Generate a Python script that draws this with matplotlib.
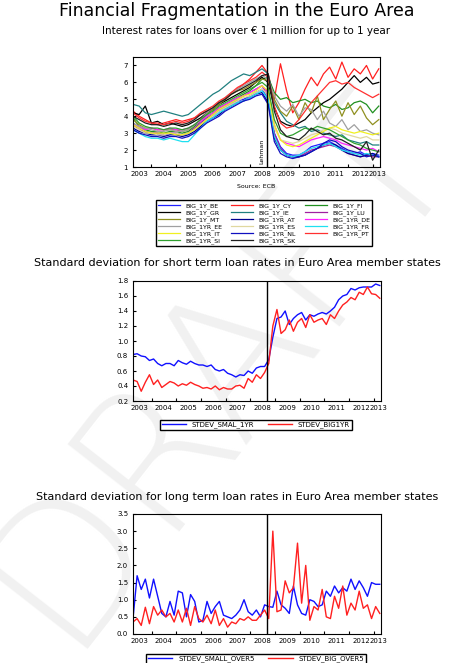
import numpy as np
import matplotlib
matplotlib.use("Agg")
import matplotlib.pyplot as plt

# quarterly dates, Apr 2003 .. Apr 2013
quarters = np.arange(2003.25, 2013.26, 0.25)
# bimonthly dates for the standard deviation panels
bimonths = 2003.25 + np.arange(61) / 6.0

big = {
    "BIG_1Y_BE": [3.6,3.3,3.1,3.0,3.0,2.9,3.0,3.0,2.9,3.0,3.2,3.5,3.8,4.0,4.3,4.5,4.7,4.9,5.0,5.2,5.4,5.6,
                  5.0,3.0,2.2,1.8,1.7,1.7,1.9,2.2,2.3,2.4,2.5,2.3,2.1,1.9,1.8,1.9,1.7,1.8,1.7],
    "BIG_1Y_CY": [4.3,4.0,3.8,3.6,3.5,3.6,3.7,3.8,3.7,3.8,3.9,4.1,4.3,4.5,4.8,5.0,5.3,5.6,5.9,6.2,6.6,7.0,
                  6.5,5.0,7.1,5.5,4.2,4.8,5.6,6.3,5.8,6.5,6.9,6.2,7.2,6.3,6.8,6.5,7.0,6.2,6.8],
    "BIG_1Y_FI": [3.9,3.4,3.2,3.1,3.1,3.0,3.1,3.1,3.0,3.1,3.4,3.7,4.0,4.2,4.5,4.7,4.9,5.1,5.3,5.5,5.8,6.2,
                  6.3,5.4,5.0,5.1,4.8,4.9,5.0,4.8,4.9,4.6,4.5,4.7,4.4,4.5,4.8,4.9,4.7,4.2,4.6],
    "BIG_1Y_GR": [4.2,4.1,4.6,3.6,3.7,3.5,3.6,3.5,3.4,3.5,3.7,3.9,4.2,4.4,4.7,4.9,5.1,5.3,5.5,5.7,6.0,6.3,
                  6.0,4.5,3.7,3.5,3.4,3.6,3.8,4.2,4.5,4.8,5.0,5.3,5.6,6.0,6.4,6.0,6.3,5.9,6.0],
    "BIG_1Y_IE": [4.7,4.6,4.2,4.1,4.2,4.3,4.2,4.1,4.0,4.1,4.4,4.7,5.0,5.3,5.5,5.8,6.1,6.3,6.5,6.4,6.6,6.8,
                  6.5,4.8,4.2,3.7,3.5,3.3,3.4,3.1,3.2,3.0,2.9,2.8,2.9,2.6,2.5,2.4,2.5,2.3,2.3],
    "BIG_1Y_LU": [3.5,3.2,3.1,3.0,3.0,2.9,3.0,3.0,2.9,3.0,3.3,3.6,3.9,4.1,4.4,4.6,4.8,5.0,5.2,5.4,5.6,5.8,
                  5.2,3.0,2.1,1.7,1.6,1.6,1.8,2.0,2.1,2.2,2.3,2.2,2.0,1.8,1.7,1.6,1.7,1.6,1.6],
    "BIG_1Y_MT": [3.8,3.5,3.3,3.3,3.2,3.2,3.2,3.2,3.1,3.2,3.5,3.8,4.1,4.4,4.7,5.0,5.3,5.5,5.6,5.8,6.0,6.2,
                  6.1,5.0,4.3,4.0,4.6,3.8,4.8,4.2,5.2,3.8,4.4,4.9,4.0,4.8,4.1,4.6,3.9,3.5,3.8],
    "BIG_1YR_AT": [3.3,3.1,3.0,2.9,2.9,2.8,2.9,2.9,2.8,2.9,3.1,3.4,3.7,3.9,4.1,4.4,4.6,4.8,4.9,5.1,5.3,5.4,
                   4.8,2.7,2.0,1.7,1.6,1.6,1.7,1.9,2.1,2.3,2.4,2.3,2.0,1.8,1.7,1.6,1.7,1.8,1.6],
    "BIG_1YR_DE": [3.5,3.4,3.2,3.3,3.2,3.2,3.3,3.2,3.2,3.3,3.5,3.7,4.0,4.2,4.5,4.7,4.9,5.1,5.2,5.4,5.6,5.8,
                   5.4,3.5,2.6,2.4,2.3,2.2,2.4,2.6,2.7,2.8,2.7,2.6,2.4,2.3,2.2,2.1,2.0,2.1,1.9],
    "BIG_1YR_EE": [3.6,3.4,3.3,3.2,3.1,3.1,3.2,3.1,3.1,3.2,3.5,3.8,4.2,4.5,4.8,5.1,5.4,5.6,5.8,6.0,6.2,6.4,
                   6.2,5.2,4.6,4.3,4.7,4.0,4.5,4.4,3.8,4.3,3.6,3.4,3.8,3.2,3.5,3.1,3.2,3.0,2.9],
    "BIG_1YR_ES": [3.4,3.2,3.0,3.0,2.9,2.9,3.0,3.0,2.9,3.0,3.2,3.5,3.8,4.0,4.3,4.5,4.7,4.9,5.1,5.2,5.4,5.6,
                   5.3,3.3,2.6,2.5,2.4,2.5,2.7,2.9,3.0,3.2,3.3,3.2,3.0,2.9,2.8,2.7,2.8,2.6,2.6],
    "BIG_1YR_FR": [3.2,3.0,2.8,2.7,2.7,2.6,2.7,2.6,2.5,2.5,2.9,3.3,3.7,3.9,4.2,4.4,4.6,4.8,4.9,5.1,5.3,5.5,
                   5.0,2.8,2.0,1.7,1.6,1.7,1.9,2.1,2.2,2.3,2.4,2.2,2.0,1.9,1.8,1.7,1.8,1.7,1.6],
    "BIG_1YR_IT": [3.5,3.3,3.1,3.0,3.0,3.0,3.0,2.9,2.9,3.0,3.2,3.5,3.8,4.1,4.4,4.6,4.8,5.0,5.2,5.3,5.5,5.8,
                   5.5,3.5,2.6,2.3,2.2,2.3,2.5,2.7,2.9,3.1,3.3,3.4,3.2,3.1,3.0,3.1,3.0,2.9,3.0],
    "BIG_1YR_NL": [3.2,3.0,2.9,2.8,2.8,2.7,2.8,2.8,2.7,2.8,3.0,3.3,3.6,3.8,4.0,4.3,4.5,4.7,4.9,5.0,5.2,5.3,
                   4.7,2.5,1.8,1.6,1.5,1.6,1.7,1.9,2.1,2.4,2.6,2.5,2.2,2.0,1.9,1.8,1.6,1.7,1.6],
    "BIG_1YR_PT": [4.2,3.9,3.7,3.6,3.6,3.5,3.6,3.7,3.6,3.7,3.9,4.2,4.4,4.6,4.9,5.1,5.4,5.7,5.9,6.1,6.3,6.6,
                   6.3,4.6,3.6,3.3,3.4,3.8,4.3,4.8,5.2,5.6,6.0,6.1,5.9,6.0,5.7,5.5,5.3,5.1,5.3],
    "BIG_1YR_SI": [4.0,3.6,3.4,3.3,3.3,3.2,3.3,3.3,3.2,3.3,3.5,3.8,4.1,4.3,4.6,4.8,5.0,5.2,5.4,5.6,5.8,6.0,
                   5.7,3.8,3.0,2.8,2.9,3.1,3.3,3.2,3.4,3.3,3.2,3.0,2.8,2.6,2.4,2.3,2.1,2.0,1.9],
    "BIG_1YR_SK": [4.0,3.8,3.6,3.5,3.5,3.4,3.5,3.6,3.5,3.6,3.8,4.1,4.3,4.5,4.8,5.0,5.3,5.5,5.7,5.9,6.1,6.4,
                   6.5,4.3,3.2,2.8,2.7,2.6,2.9,3.3,3.1,2.9,3.0,2.7,2.6,2.4,2.2,2.0,2.5,1.4,2.0],
}
big_colors = {
    "BIG_1Y_BE": "#2020ff", "BIG_1Y_CY": "#ff2020", "BIG_1Y_FI": "#209020",
    "BIG_1Y_GR": "#000000", "BIG_1Y_IE": "#208080", "BIG_1Y_LU": "#a020a0",
    "BIG_1Y_MT": "#909020", "BIG_1YR_AT": "#000090", "BIG_1YR_DE": "#ff20ff",
    "BIG_1YR_EE": "#a0a0a0", "BIG_1YR_ES": "#e0d8a0", "BIG_1YR_FR": "#20e0f0",
    "BIG_1YR_IT": "#f0f020", "BIG_1YR_NL": "#1010c0", "BIG_1YR_PT": "#ff3030",
    "BIG_1YR_SI": "#30a030", "BIG_1YR_SK": "#202020",
}
# legend order filled column by column (reference reads row by row)
legend_order = ["BIG_1Y_BE", "BIG_1Y_GR", "BIG_1Y_MT", "BIG_1YR_EE", "BIG_1YR_IT", "BIG_1YR_SI",
                "BIG_1Y_CY", "BIG_1Y_IE", "BIG_1YR_AT", "BIG_1YR_ES", "BIG_1YR_NL", "BIG_1YR_SK",
                "BIG_1Y_FI", "BIG_1Y_LU", "BIG_1YR_DE", "BIG_1YR_FR", "BIG_1YR_PT"]

stdev_smal_1yr = [0.82,0.83,0.80,0.79,0.74,0.76, 0.70,0.67,0.70,0.70,0.67,0.74,
                  0.71,0.69,0.73,0.70,0.68,0.68, 0.66,0.68,0.62,0.60,0.62,0.57,
                  0.55,0.52,0.55,0.54,0.60,0.57, 0.64,0.66,0.66,0.75,1.05,1.30,
                  1.32,1.40,1.22,1.30,1.35,1.38, 1.28,1.35,1.33,1.36,1.38,1.36,
                  1.40,1.45,1.55,1.60,1.62,1.70, 1.68,1.71,1.72,1.72,1.72,1.76,1.74]
stdev_big1yr = [0.48,0.46,0.33,0.45,0.55,0.42, 0.48,0.38,0.42,0.46,0.44,0.40,
                0.43,0.41,0.45,0.42,0.40,0.37, 0.38,0.36,0.40,0.35,0.38,0.36,
                0.36,0.40,0.41,0.37,0.50,0.45, 0.55,0.50,0.58,0.70,1.20,1.42,
                1.10,1.15,1.28,1.13,1.25,1.30, 1.18,1.35,1.25,1.28,1.30,1.22,
                1.35,1.30,1.40,1.48,1.52,1.58, 1.55,1.65,1.62,1.72,1.63,1.62,1.57]
stdev_small_over5 = [0.45,1.70,1.30,1.60,1.05,1.60, 1.10,0.60,0.50,0.95,0.55,1.25,
                     1.20,0.50,1.15,0.95,0.35,0.40, 0.95,0.60,0.80,0.95,0.55,0.50,
                     0.45,0.55,0.70,1.00,0.65,0.55, 0.70,0.50,0.85,0.80,0.78,1.25,
                     0.85,0.75,0.60,1.40,0.85,0.60, 0.55,1.00,0.95,0.80,0.85,1.25,
                     1.10,1.40,1.20,1.35,1.25,1.60, 1.30,1.55,1.35,1.10,1.50,1.45,1.45]
stdev_big_over5 = [0.35,0.45,0.25,0.78,0.30,0.80, 0.55,0.70,0.50,0.60,0.35,0.70,
                   0.35,0.75,0.25,0.80,0.45,0.35, 0.55,0.30,0.70,0.25,0.45,0.20,
                   0.35,0.30,0.45,0.40,0.50,0.40, 0.40,0.55,0.70,0.45,3.00,0.65,
                   0.70,1.55,1.20,1.35,2.65,0.90, 2.00,0.40,0.80,0.70,1.30,0.50,
                   0.45,1.10,0.75,1.40,0.55,0.90, 0.70,1.25,0.75,0.85,0.45,0.80,0.60]

years = list(range(2003, 2013))
LEHMAN = 2008.7

W, H = 474, 663
fig = plt.figure(figsize=(W / 100, H / 100), dpi=100)

# faint watermark behind everything
wm = fig.text(0.46, 0.45, "DRAFT", rotation=52, fontsize=140, color="#f1f1f1",
              ha="center", va="center", fontweight="light")
wm.set_zorder(-10)


def px_axes(left, top, right, bottom):
    return fig.add_axes([left / W, 1 - bottom / H, (right - left) / W, (bottom - top) / H],
                        facecolor="none")


def style_time_axis(ax):
    ax.set_xlim(2003.25, 2013.3)
    ax.set_xticks(range(2004, 2014))
    ax.set_xticklabels([])
    ax.set_xticks([y + 0.5 for y in years] + [2013.2], minor=True)
    ax.set_xticklabels([str(y) for y in years] + ["2013"], minor=True)
    ax.tick_params(axis="x", which="minor", length=0, labelsize=5, pad=3)
    ax.tick_params(axis="x", which="major", direction="in", length=2)
    ax.tick_params(axis="y", direction="in", length=2, labelsize=5)
    for s in ax.spines.values():
        s.set_linewidth(0.8)
    ax.axvline(LEHMAN, color="black", lw=1)


fig.text(0.5, 1 - 11 / H, "Financial Fragmentation in the Euro Area", ha="center", va="center", fontsize=12.5)
fig.text(0.52, 1 - 31 / H, "Interest rates for loans over \u20ac 1 million for up to 1 year",
         ha="center", va="center", fontsize=7.5)

ax1 = px_axes(133, 57, 380, 167)
lines = {}
for name, vals in big.items():
    lines[name], = ax1.plot(quarters, vals, color=big_colors[name], lw=0.9)
style_time_axis(ax1)
ax1.set_ylim(1, 7.5)
ax1.set_yticks(range(1, 8))
ax1.text(LEHMAN - 0.12, 1.2, "Lehman", rotation=90, fontsize=4.5, ha="right", va="bottom")
fig.text(256 / W, 1 - 187 / H, "Source: ECB", ha="center", va="center", fontsize=4.5)
fig.legend([lines[n] for n in legend_order], legend_order, ncol=3, fontsize=4.5,
           loc="center", bbox_to_anchor=(264 / W, 1 - 223 / H), fancybox=False,
           edgecolor="black", handlelength=3.5, columnspacing=1.5, labelspacing=0.15,
           borderpad=0.4, framealpha=1)

fig.text(0.5, 1 - 263 / H, "Standard deviation for short term loan rates in Euro Area member states",
         ha="center", va="center", fontsize=8)
ax2 = px_axes(133, 281, 381, 401)
ax2.plot(bimonths, stdev_smal_1yr, color="#1010ff", lw=1, label="STDEV_SMAL_1YR")
ax2.plot(bimonths, stdev_big1yr, color="#ff2020", lw=1, label="STDEV_BIG1YR")
style_time_axis(ax2)
ax2.set_ylim(0.2, 1.8)
ax2.set_yticks(np.arange(0.2, 1.81, 0.2))
ax2.set_yticklabels([f"{v:.1f}" for v in np.arange(0.2, 1.81, 0.2)])
fig.legend(*ax2.get_legend_handles_labels(), ncol=2, fontsize=5, loc="center",
           bbox_to_anchor=(256 / W, 1 - 425 / H), fancybox=False, edgecolor="black",
           handlelength=3.5, borderpad=0.3, framealpha=1)

fig.text(0.5, 1 - 497 / H, "Standard deviation for long term loan rates in Euro Area member states",
         ha="center", va="center", fontsize=8)
ax3 = px_axes(133, 514, 381, 634)
ax3.plot(bimonths, stdev_small_over5, color="#1010ff", lw=1, label="STDEV_SMALL_OVER5")
ax3.plot(bimonths, stdev_big_over5, color="#ff2020", lw=1, label="STDEV_BIG_OVER5")
style_time_axis(ax3)
ax3.set_ylim(0, 3.5)
ax3.set_yticks(np.arange(0, 3.51, 0.5))
ax3.set_yticklabels([f"{v:.1f}" for v in np.arange(0, 3.51, 0.5)])
fig.legend(*ax3.get_legend_handles_labels(), ncol=2, fontsize=5, loc="center",
           bbox_to_anchor=(256 / W, 1 - 659 / H), fancybox=False, edgecolor="black",
           handlelength=3.5, borderpad=0.3, framealpha=1)

fig.savefig("out.png", dpi=100, facecolor="white")
